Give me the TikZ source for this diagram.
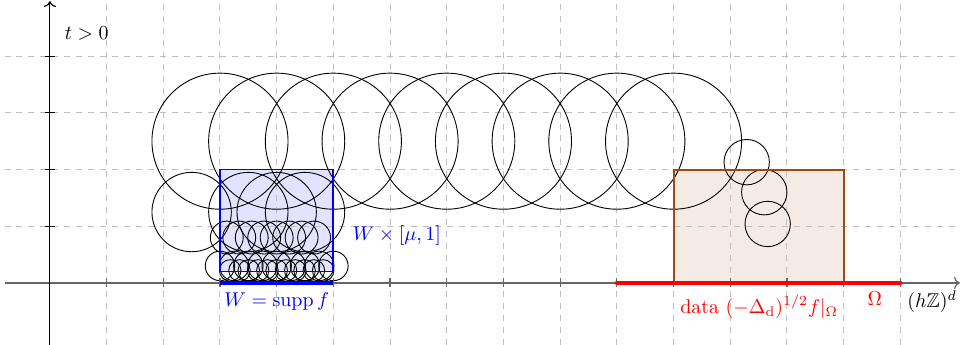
\documentclass[tikz,border=0pt]{standalone}
\usepackage{amsmath,amssymb}
\usetikzlibrary{arrows.meta}
\definecolor{omegabrown}{RGB}{165,70,20}

\begin{document}
\begin{tikzpicture}[grd/.style={dashed,gray!50,line width=0.5pt},ball/.style={black,line width=0.45pt},axis/.style={->,line width=0.6pt},font=\normalsize]
\useasboundingbox (-0.88,-1.09) rectangle (16.07,4.99);
% shaded regions
\fill[blue!11](3,0.2) rectangle (5,2);
\fill[omegabrown!11](11,0) rectangle (14,2);
% grid
\foreach \x in {1,...,15}{\draw[grd](\x,-1.09)--(\x,4.99);}
\foreach \y in {1,...,4}{\draw[grd](-0.8,\y)--(16.07,\y);}
% balls
\foreach \x in {3,...,11}{\draw[ball](\x,2.5) circle (1.2);}
\foreach \x in {2.5,3.5,4,4.5}{\draw[ball](\x,1.25) circle (0.7);}
\foreach \i in {0,...,7}{\draw[ball]({3.12+0.22*\i},0.8) circle (0.29);}
\foreach \i in {0,...,8}{\draw[ball]({3+0.25*\i},0.3) circle (0.26);}
\foreach \i in {0,...,10}{\draw[ball]({3.18+0.164*\i},0.22) circle (0.19);}
\draw[ball](12.29,2.13) circle (0.4);
\draw[ball](12.6,1.6) circle (0.4);
\draw[ball](12.66,1.04) circle (0.4);
% axes
\draw[axis,black!60](-0.8,0)--(16.05,0);
\draw[axis](0,-1.09)--(0,4.97);
\foreach \x in {1,...,15}{\draw[black!60,line width=0.6pt](\x,-0.08)--(\x,0.08);}
\foreach \y in {1,...,4}{\draw[line width=0.6pt](-0.09,\y)--(0.09,\y);}
% boxes
\draw[blue,line width=0.9pt](3,0.2) rectangle (5,2);
\draw[omegabrown,line width=1pt](11,0) rectangle (14,2);
\draw[blue,line width=2.2pt](3,0)--(5,0);
\draw[red,line width=2.2pt,line cap=round](10,0)--(15,0);
% labels
\node (tpos) at (0.65,4.4) {$t>0$};
\node[blue] (wlab) at (4,-0.32) {$W=\operatorname{supp} f$};
\node[blue] (wbox) at (6.12,0.83) {$W\times[\mu,1]$};
\node[red] (data) at (12.51,-0.42) {data $(-\Delta_{\mathrm d})^{1/2}f|_\Omega$};
\node[red] (om) at (14.55,-0.27) {$\Omega$};
\node (lat) at (15.56,-0.33) {$(h\mathbb{Z})^d$};
\end{tikzpicture}
\end{document}
